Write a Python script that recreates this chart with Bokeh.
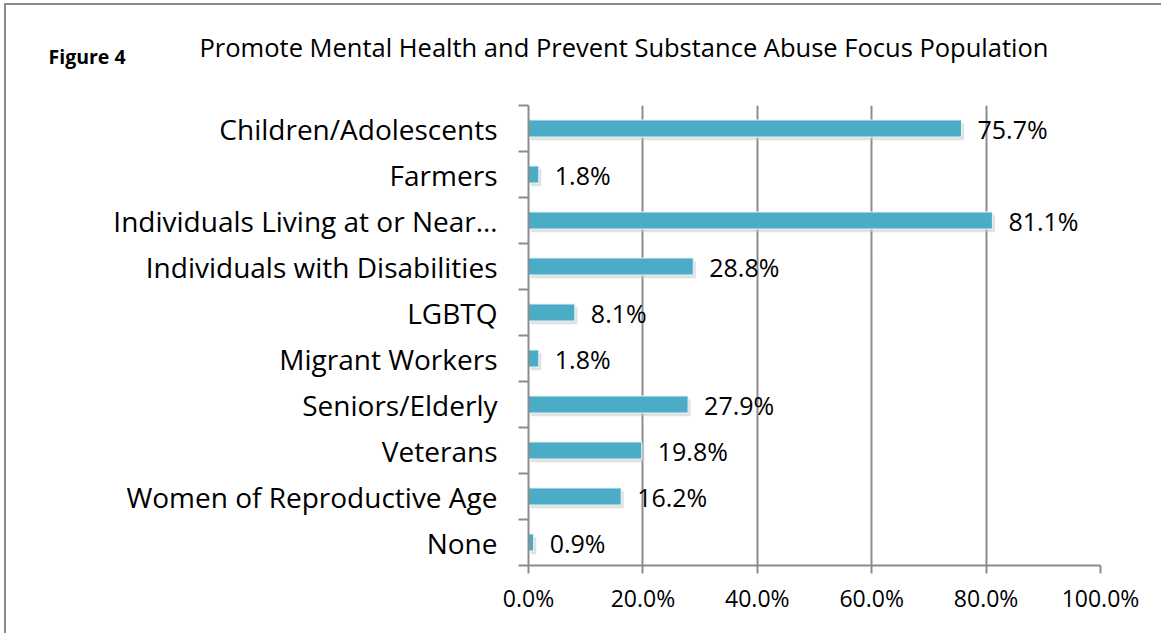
from bokeh.plotting import figure
from bokeh.models import (Range1d, FixedTicker, Title, ColumnDataSource,
                          NumeralTickFormatter)
from bokeh.transform import dodge
from bokeh.core.properties import value
from bokeh.embed import file_html
from bokeh.resources import INLINE

# ---- data ----
categories = [
    "Children/Adolescents",
    "Farmers",
    "Individuals Living at or Near\u2026",
    "Individuals with Disabilities",
    "LGBTQ",
    "Migrant Workers",
    "Seniors/Elderly",
    "Veterans",
    "Women of Reproductive Age",
    "None",
]
percents = [75.7, 1.8, 81.1, 28.8, 8.1, 1.8, 27.9, 19.8, 16.2, 0.9]
x_ticks = [0, 20, 40, 60, 80, 100]
title_text = "Promote Mental Health and Prevent Substance Abuse Focus Population"
figure_tag = "Figure 4"

n = len(categories)
ypos = [n - 0.5 - i for i in range(n)]
labels = ["%.1f%%" % v for v in percents]
src = ColumnDataSource(dict(y=ypos, v=percents, lab=labels, cat=categories))

FONT = "Open Sans"
GRID = "#8c8c8c"

MBL, MBT, FW, FH = 522, 100, 572, 460
W, H = 1155, 628

p = figure(width=W, height=H, output_backend="svg", toolbar_location=None,
           x_range=Range1d(0, 100), y_range=Range1d(0, n),
           min_border_left=MBL, min_border_right=W - MBL - FW,
           min_border_top=MBT, min_border_bottom=H - MBT - FH)
p.frame_width = FW
p.frame_height = FH
p.outline_line_color = None
p.background_fill_color = "white"
p.border_fill_color = "white"
p.styles = {"border-left": "2px solid #8a8a8a", "border-top": "2px solid #8a8a8a",
            "margin-left": "4px", "margin-top": "3px"}

# titles
p.title.text = title_text
p.title.align = "left"
p.title.offset = 199 - 6 - MBL
p.title.text_font = FONT
p.title.text_font_size = "25.5px"
p.title.text_font_style = "normal"
p.title.text_color = "#000000"
p.title.standoff = -116
p.add_layout(Title(text=figure_tag, align="left", offset=48 - 6 - MBL,
                   text_font=FONT, text_font_size="19.5px",
                   text_font_style="bold", text_color="#000000",
                   standoff=71), "above")

# grid
p.xgrid.ticker = FixedTicker(ticks=x_ticks)
p.xgrid.grid_line_color = GRID
p.xgrid.grid_line_width = 2
p.ygrid.grid_line_color = None

# x axis
p.xaxis.ticker = FixedTicker(ticks=x_ticks)
p.xaxis.formatter = NumeralTickFormatter(format="0.0")
p.xaxis.major_label_overrides = {t: "%.1f%%" % t for t in x_ticks}
p.xaxis.axis_line_color = GRID
p.xaxis.axis_line_width = 2
p.xaxis.major_tick_line_color = GRID
p.xaxis.major_tick_line_width = 2
p.xaxis.major_tick_in = 0
p.xaxis.major_tick_out = 8
p.xaxis.minor_tick_line_color = None
p.xaxis.major_label_text_font = FONT
p.xaxis.major_label_text_font_size = "23px"
p.xaxis.major_label_text_color = "#000000"
p.xaxis.major_label_standoff = 8

# y axis (labels at centers, ticks at boundaries)
p.yaxis.ticker = FixedTicker(ticks=ypos, minor_ticks=list(range(n + 1)))
p.yaxis.major_label_overrides = {y: c for y, c in zip(ypos, categories)}
p.yaxis.axis_line_color = GRID
p.yaxis.axis_line_width = 2
p.yaxis.major_tick_line_color = None
p.yaxis.major_tick_in = 0
p.yaxis.major_tick_out = 0
p.yaxis.minor_tick_line_color = GRID
p.yaxis.minor_tick_line_width = 2
p.yaxis.minor_tick_in = 0
p.yaxis.minor_tick_out = 10
p.yaxis.major_label_text_font = FONT
p.yaxis.major_label_text_font_size = "28px"
p.yaxis.major_label_text_color = "#000000"
p.yaxis.major_label_standoff = 21

# bar shadows and bars
p.hbar(y=dodge("y", -0.07, range=p.y_range), left=0.4,
       right=dodge("v", 0.45, range=p.x_range), height=0.37,
       source=src, fill_color="#c4c4c4", fill_alpha=0.5, line_color=None)
p.hbar(y="y", left=0, right="v", height=0.37, source=src,
       fill_color="#4bacc6", line_color="#e8f4f8", line_width=1)

# data labels
p.text(x="v", y="y", text="lab", source=src, x_offset=16,
       text_align="left", text_baseline="middle",
       text_font=value(FONT), text_font_size="25px", text_color="#000000")

open("out.html", "w").write(file_html(p, INLINE))
